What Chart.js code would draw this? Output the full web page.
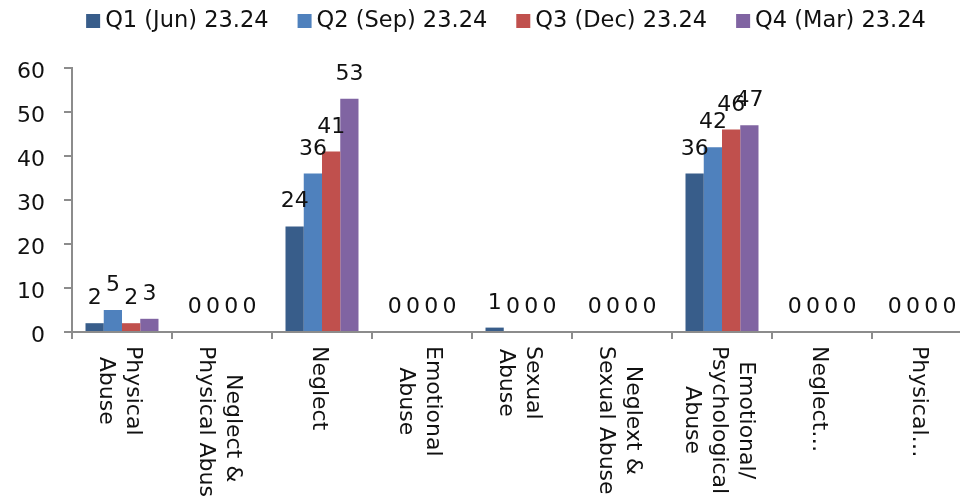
<!DOCTYPE html>
<html>
<head>
<meta charset="utf-8">
<script src="https://cdn.jsdelivr.net/npm/chart.js@4.4.1/dist/chart.umd.min.js"></script>
<style>
  html, body { margin: 0; padding: 0; background: #fff; overflow: hidden; }
  #wrap { width: 960px; height: 498px; overflow: hidden; }
</style>
</head>
<body>
<div id="wrap"><canvas id="grafico" width="975" height="498"></canvas></div>
<script>
// categorias (linhas de cada rótulo)
const categorias = [
  ['Physical', 'Abuse'],
  ['Neglect &', 'Physical Abuse'],
  ['Neglect'],
  ['Emotional', 'Abuse'],
  ['Sexual', 'Abuse'],
  ['Neglext &', 'Sexual Abuse'],
  ['Emotional/', 'Psychological', 'Abuse'],
  ['Neglect…'],
  ['Physical…']
];
const series = ['Q1 (Jun) 23.24', 'Q2 (Sep) 23.24', 'Q3 (Dec) 23.24', 'Q4 (Mar) 23.24'];
const q1 = [2, 0, 24, 0, 1, 0, 36, 0, 0];
const q2 = [5, 0, 36, 0, 0, 0, 42, 0, 0];
const q3 = [2, 0, 41, 0, 0, 0, 46, 0, 0];
const q4 = [3, 0, 53, 0, 0, 0, 47, 0, 0];
const cores = ['#385D8A', '#4F81BD', '#C0504D', '#8064A2'];
const yTicks = [0, 10, 20, 30, 40, 50, 60];

const fonte = '"DejaVu Sans", sans-serif';
const cinza = '#8c8c8c';
const texto = '#111';

// legenda desenhada à mão (centrada em x=506)
const legenda = {
  id: 'legenda',
  afterDraw(chart) {
    const ctx = chart.ctx;
    ctx.save();
    ctx.font = '22.5px ' + fonte;
    ctx.textBaseline = 'middle';
    ctx.textAlign = 'left';
    const itens = chart.data.datasets.map(ds => ({ ds, w: 14 + 5 + ctx.measureText(ds.label).width }));
    const total = itens.reduce((s, it) => s + it.w, 0) + 29 * (itens.length - 1);
    let x = 506 - total / 2;
    itens.forEach(it => {
      ctx.fillStyle = it.ds.backgroundColor;
      ctx.fillRect(x, 14, 14, 14);
      ctx.fillStyle = texto;
      ctx.fillText(it.ds.label, x + 19, 21);
      x += it.w + 29;
    });
    ctx.restore();
  }
};

// rótulos do eixo y
const rotulosY = {
  id: 'rotulosY',
  afterDraw(chart) {
    const ctx = chart.ctx;
    const y = chart.scales.y;
    ctx.save();
    ctx.font = '22px ' + fonte;
    ctx.fillStyle = texto;
    ctx.textAlign = 'right';
    ctx.textBaseline = 'middle';
    y.ticks.forEach(t => ctx.fillText(String(t.value), 45, y.getPixelForValue(t.value) + 4));
    ctx.restore();
  }
};

// valores em cima das barras
const rotulosValores = {
  id: 'rotulosValores',
  afterDatasetsDraw(chart) {
    const ctx = chart.ctx;
    ctx.save();
    ctx.font = '22px ' + fonte;
    ctx.fillStyle = texto;
    ctx.textAlign = 'center';
    ctx.textBaseline = 'alphabetic';
    chart.data.datasets.forEach((ds, i) => {
      chart.getDatasetMeta(i).data.forEach((bar, j) => {
        ctx.fillText(String(ds.data[j]), bar.x, bar.y - 19);
      });
    });
    ctx.restore();
  }
};

// rótulos do eixo x girados 90° no sentido horário
const rotulosX = {
  id: 'rotulosX',
  afterDraw(chart) {
    const ctx = chart.ctx;
    const x = chart.scales.x;
    const topo = chart.chartArea.bottom + 14;
    const alturaLinha = 27;
    ctx.save();
    ctx.font = '22px ' + fonte;
    ctx.fillStyle = texto;
    ctx.textAlign = 'center';
    ctx.textBaseline = 'middle';
    categorias.forEach((linhas, i) => {
      const cx = x.getPixelForValue(i) - 3;
      const maior = Math.max(...linhas.map(l => ctx.measureText(l).width));
      ctx.save();
      ctx.translate(cx, topo);
      ctx.rotate(Math.PI / 2);
      linhas.forEach((l, k) => {
        ctx.fillText(l, maior / 2, (k - (linhas.length - 1) / 2) * alturaLinha);
      });
      ctx.restore();
    });
    ctx.restore();
  }
};

const datasets = [q1, q2, q3, q4].map((d, i) => ({
  label: series[i],
  data: d,
  backgroundColor: cores[i],
  borderWidth: 0,
  categoryPercentage: 0.73,
  barPercentage: 1.0
}));

new Chart(document.getElementById('grafico').getContext('2d'), {
  type: 'bar',
  data: { labels: categorias.map(l => l.join(' ')), datasets: datasets },
  options: {
    responsive: false,
    animation: false,
    layout: { padding: { left: 0, right: 3, top: 68, bottom: 0 } },
    plugins: {
      legend: { display: false },
      tooltip: { enabled: false }
    },
    scales: {
      x: {
        grid: { drawOnChartArea: false, drawTicks: true, tickLength: 7, color: cinza, lineWidth: 2 },
        border: { color: cinza, width: 2 },
        ticks: { display: false },
        afterFit(scale) { scale.height = 166; }
      },
      y: {
        min: 0,
        max: 60,
        afterBuildTicks(scale) { scale.ticks = yTicks.map(v => ({ value: v })); },
        grid: { drawOnChartArea: false, drawTicks: true, tickLength: 8, color: cinza, lineWidth: 2 },
        border: { color: cinza, width: 2 },
        ticks: { display: false },
        afterFit(scale) { scale.width = 72; }
      }
    }
  },
  plugins: [rotulosValores, rotulosX, rotulosY, legenda]
});
</script>
</body>
</html>
